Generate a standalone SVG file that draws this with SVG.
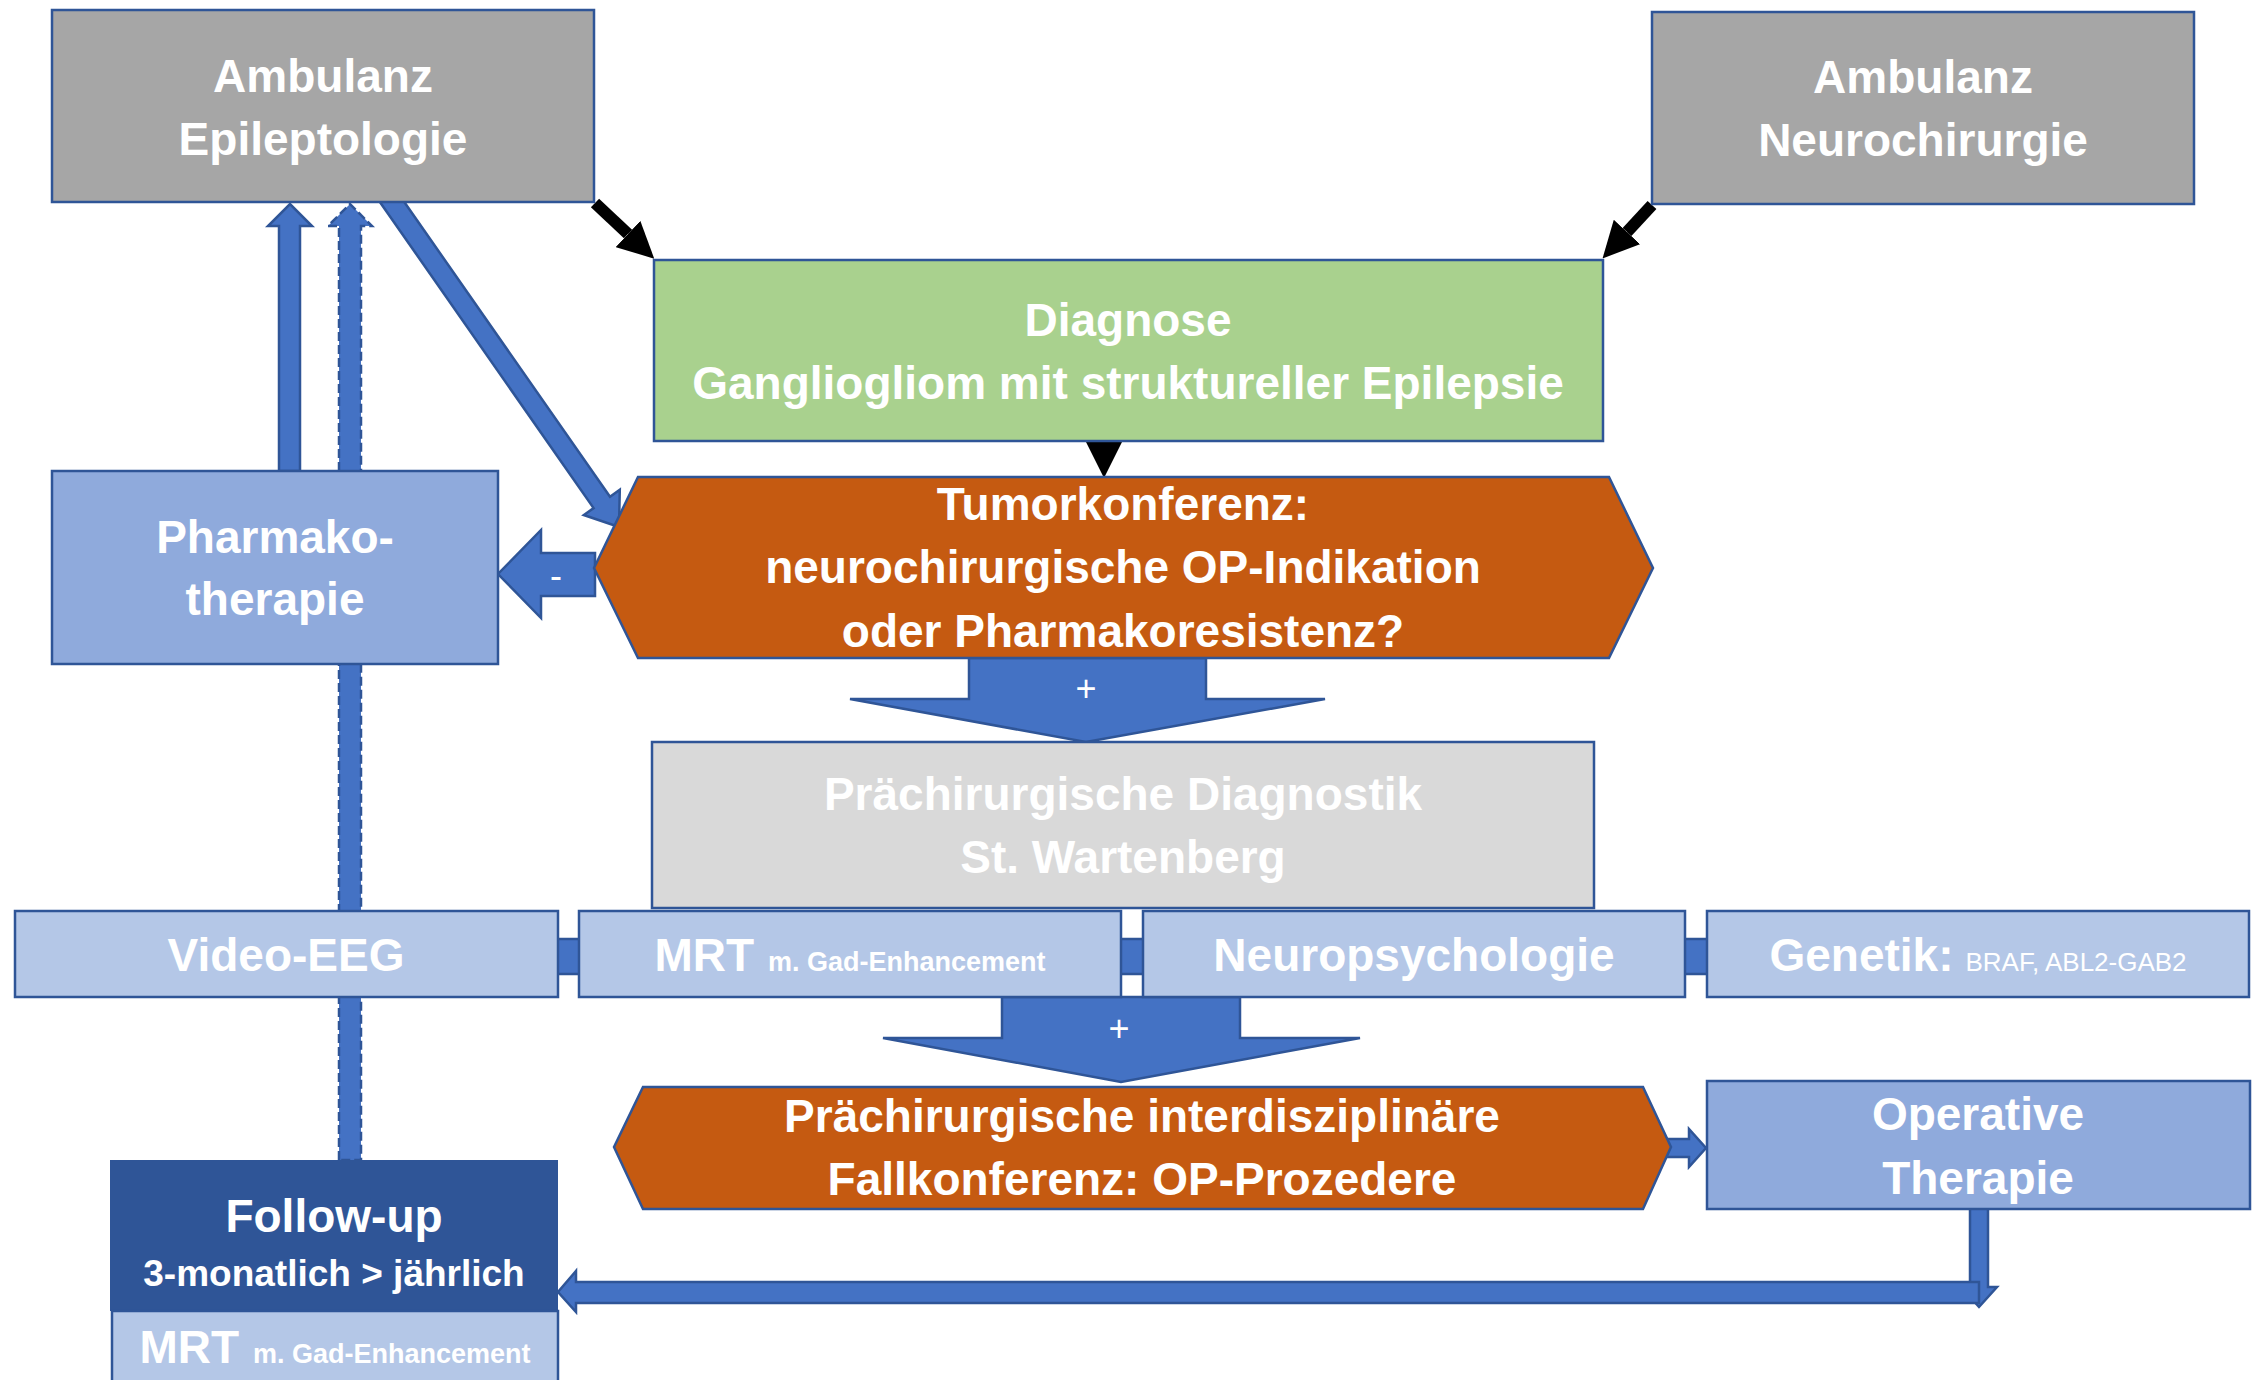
<svg xmlns="http://www.w3.org/2000/svg" width="2265" height="1380" viewBox="0 0 2265 1380">
<defs>
<style>
.box{stroke:#2F5597;stroke-width:2.5}
.gray{fill:#A6A6A6}
.green{fill:#A9D18E}
.orange{fill:#C55A11}
.mid{fill:#8FAADC}
.light{fill:#B4C7E7}
.dark{fill:#2F5597}
.pale{fill:#D9D9D9}
.arr{fill:#4472C4;stroke:#2F5597;stroke-width:2.5;stroke-linejoin:miter}
.dash{stroke-dasharray:9 4}
.blk{stroke:#000;stroke-width:12;fill:none}
text{font-family:"Liberation Sans",Arial,sans-serif;fill:#fff;text-anchor:middle}
.t{font-size:46px;font-weight:bold}
.s{font-size:27px;font-weight:bold}
.r{font-size:26px;font-weight:normal}
.f{font-size:37px;font-weight:bold}
.sym{font-size:36px;font-weight:normal}
</style>
<marker id="head" viewBox="0 0 10 10" refX="0" refY="5" markerWidth="3" markerHeight="3" orient="auto" markerUnits="strokeWidth">
<path d="M0,0 L10,5 L0,10 z" fill="#000"/>
</marker>
</defs>
<rect width="2265" height="1380" fill="#fff"/>

<g id="connectors">
<polygon class="arr" points="279,471 279,226 268,226 290,204 312,226 300,226 300,471"/>
<polygon class="arr dash" points="339,1160 339,226 328,226 350,204 372,226 361,226 361,1160"/>
<polygon class="arr" points="379,200.7 593.6,508.1 583.8,515 619,527 619.8,489.8 610,496.7 395.4,189.3"/>
<line class="blk" x1="595" y1="203" x2="628" y2="234" marker-end="url(#head)"/>
<line class="blk" x1="1652" y1="205" x2="1627" y2="232" marker-end="url(#head)"/>
<line class="blk" x1="1104" y1="436" x2="1104" y2="442" marker-end="url(#head)"/>
<polygon class="arr" points="595,553 541,553 541,530 498,574 541,618 541,596 595,596"/>
<polygon class="arr" points="969,658 1206,658 1206,699 1325,699 1086,742 850,699 969,699"/>
<polygon class="arr" points="1002,997 1240,997 1240,1038 1360,1038 1121,1082 883,1038 1002,1038"/>
<rect class="arr" x="554" y="939" width="29" height="35"/>
<rect class="arr" x="1119" y="939" width="26" height="35"/>
<rect class="arr" x="1683" y="939" width="26" height="35"/>
<polygon class="arr" points="1665,1139 1689,1139 1689,1129 1706,1148 1689,1167 1689,1157 1665,1157"/>
<polygon class="arr" points="1970,1205 1988,1205 1988,1287 1997,1287 1979,1307 1961,1287 1970,1287"/>
<polygon class="arr" points="1979,1282 1979,1303 576,1303 576,1312 558,1292 576,1271 576,1282"/>
<text class="sym" x="556" y="588">-</text>
<text class="sym" x="1086" y="701">+</text>
<text class="sym" x="1119" y="1041">+</text>
</g>

<g id="amb-epi">
<rect class="box gray" x="52" y="10" width="542" height="192"/>
<text class="t" x="323" y="92">Ambulanz</text>
<text class="t" x="323" y="155">Epileptologie</text>
</g>
<g id="amb-neuro">
<rect class="box gray" x="1652" y="12" width="542" height="192"/>
<text class="t" x="1923" y="93">Ambulanz</text>
<text class="t" x="1923" y="156">Neurochirurgie</text>
</g>
<g id="diagnose">
<rect class="box green" x="654" y="260" width="949" height="181"/>
<text class="t" x="1128" y="336">Diagnose</text>
<text class="t" x="1128" y="399">Gangliogliom mit struktureller Epilepsie</text>
</g>
<g id="tumorkonferenz">
<polygon class="box orange" points="594,568 638,477 1609,477 1653,568 1609,658 638,658"/>
<text class="t" x="1123" y="520">Tumorkonferenz:</text>
<text class="t" x="1123" y="583">neurochirurgische OP-Indikation</text>
<text class="t" x="1123" y="647">oder Pharmakoresistenz?</text>
</g>
<g id="pharmako">
<rect class="box mid" x="52" y="471" width="446" height="193"/>
<text class="t" x="275" y="553">Pharmako-</text>
<text class="t" x="275" y="615">therapie</text>
</g>
<g id="praechir-diag">
<rect class="box pale" x="652" y="742" width="942" height="166"/>
<text class="t" x="1123" y="810">Prächirurgische Diagnostik</text>
<text class="t" x="1123" y="873">St. Wartenberg</text>
</g>
<g id="video-eeg">
<rect class="box light" x="15" y="911" width="543" height="86"/>
<text class="t" x="286" y="971">Video-EEG</text>
</g>
<g id="mrt">
<rect class="box light" x="579" y="911" width="542" height="86"/>
<text x="850" y="971"><tspan class="t">MRT</tspan><tspan class="s" dx="14">m. Gad-Enhancement</tspan></text>
</g>
<g id="neuropsychologie">
<rect class="box light" x="1143" y="911" width="542" height="86"/>
<text class="t" x="1414" y="971">Neuropsychologie</text>
</g>
<g id="genetik">
<rect class="box light" x="1707" y="911" width="542" height="86"/>
<text x="1978" y="971"><tspan class="t">Genetik:</tspan><tspan class="r" dx="12">BRAF, ABL2-GAB2</tspan></text>
</g>
<g id="fallkonferenz">
<polygon class="box orange" points="614,1147 643,1087 1643,1087 1671,1147 1643,1209 643,1209"/>
<text class="t" x="1142" y="1132">Prächirurgische interdisziplinäre</text>
<text class="t" x="1142" y="1195">Fallkonferenz: OP-Prozedere</text>
</g>
<g id="operative">
<rect class="box mid" x="1707" y="1081" width="543" height="128"/>
<text class="t" x="1978" y="1130">Operative</text>
<text class="t" x="1978" y="1194">Therapie</text>
</g>
<g id="follow-up">
<rect class="dark" x="110" y="1160" width="448" height="151"/>
<text class="t" x="334" y="1232">Follow-up</text>
<text class="f" x="334" y="1286">3-monatlich &gt; jährlich</text>
</g>
<g id="follow-up-mrt">
<rect class="box light" x="112" y="1311" width="446" height="75"/>
<text x="335" y="1363"><tspan class="t">MRT</tspan><tspan class="s" dx="14">m. Gad-Enhancement</tspan></text>
</g>
</svg>
